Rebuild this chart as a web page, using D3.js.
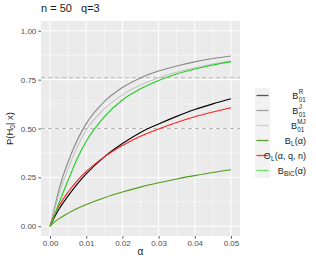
<!DOCTYPE html>
<html>
<head>
<meta charset="utf-8">
<script src="https://cdn.jsdelivr.net/npm/d3@7"></script>
<style>
  body { margin: 0; background: #fff; }
  text { font-family: "Liberation Sans", Arial, sans-serif; }
</style>
</head>
<body>
<div id="chart"></div>
<script>
// values
const alpha = [0, 0.001, 0.0025, 0.005, 0.0075, 0.01, 0.015, 0.02, 0.025, 0.03, 0.035, 0.04, 0.045, 0.05];
const bR   = [0, 0.038, 0.088, 0.155, 0.215, 0.268, 0.355, 0.423, 0.48, 0.523, 0.562, 0.597, 0.626, 0.652];
const bJ   = [0, 0.075, 0.19, 0.33, 0.44, 0.525, 0.638, 0.71, 0.759, 0.794, 0.82, 0.841, 0.858, 0.871];
const bMJ  = [0, 0.065, 0.165, 0.295, 0.405, 0.492, 0.6, 0.672, 0.722, 0.76, 0.788, 0.811, 0.83, 0.845];
const bL   = [0, 0.018, 0.039, 0.067, 0.091, 0.111, 0.146, 0.175, 0.2, 0.222, 0.242, 0.259, 0.275, 0.289];
const oL   = [0, 0.05, 0.105, 0.175, 0.232, 0.28, 0.355, 0.413, 0.46, 0.498, 0.531, 0.56, 0.584, 0.606];
const bBIC = [0, 0.045, 0.12, 0.235, 0.345, 0.435, 0.56, 0.646, 0.703, 0.746, 0.779, 0.804, 0.825, 0.842];
const hLines = [0.76, 0.5];
const xTicks = [0, 0.01, 0.02, 0.03, 0.04, 0.05];
const yTicks = [0, 0.25, 0.5, 0.75, 1];

const series = [
  { name: "bR", vals: bR, colour: "#000000", key: "#555555",
    label: [["m", "B"], ["ss", "R", "01"]] },
  { name: "bJ", vals: bJ, colour: "#888888", key: "#a0a0a0",
    label: [["m", "B"], ["ss", "J", "01"]] },
  { name: "bMJ", vals: bMJ, colour: "#c4c4c4", key: "#d0d0d0",
    label: [["m", "B"], ["ss", "MJ", "01"]] },
  { name: "bL", vals: bL, colour: "#4f9a14", key: "#5e9e2a",
    label: [["m", "B"], ["sub", "L"], ["m", "(\u03b1)"]] },
  { name: "oL", vals: oL, colour: "#ff2020", key: "#ff3a3a",
    label: [["m", "O"], ["sub", "L"], ["m", "(\u03b1, q, n)"]] },
  { name: "bBIC", vals: bBIC, colour: "#1fcc1f", key: "#70dd70",
    label: [["m", "B"], ["sub", "BIC"], ["m", "(\u03b1)"]] },
];

const width = 316, height = 261;
const panel = { left: 41, right: 240, top: 21, bottom: 236 };

const svg = d3.select("#chart").append("svg")
  .attr("width", width).attr("height", height);

const x = d3.scaleLinear().domain([-0.0025, 0.0525]).range([panel.left, panel.right]);
const y = d3.scaleLinear().domain([-0.05, 1.05]).range([panel.bottom, panel.top]);

// panel background
svg.append("rect")
  .attr("x", panel.left).attr("y", panel.top)
  .attr("width", panel.right - panel.left).attr("height", panel.bottom - panel.top)
  .attr("fill", "#ebebeb");

// minor grid
const xMinor = xTicks.slice(0, -1).map(d => d + 0.005);
const yMinor = yTicks.slice(0, -1).map(d => d + 0.125);
svg.append("g").selectAll("line").data(xMinor).join("line")
  .attr("x1", d => x(d)).attr("x2", d => x(d))
  .attr("y1", panel.top).attr("y2", panel.bottom)
  .attr("stroke", "#fff").attr("stroke-width", 0.5);
svg.append("g").selectAll("line").data(yMinor).join("line")
  .attr("y1", d => y(d)).attr("y2", d => y(d))
  .attr("x1", panel.left).attr("x2", panel.right)
  .attr("stroke", "#fff").attr("stroke-width", 0.5);
// major grid
svg.append("g").selectAll("line").data(xTicks).join("line")
  .attr("x1", d => x(d)).attr("x2", d => x(d))
  .attr("y1", panel.top).attr("y2", panel.bottom)
  .attr("stroke", "#fff").attr("stroke-width", 1);
svg.append("g").selectAll("line").data(yTicks).join("line")
  .attr("y1", d => y(d)).attr("y2", d => y(d))
  .attr("x1", panel.left).attr("x2", panel.right)
  .attr("stroke", "#fff").attr("stroke-width", 1);

// dashed reference lines
svg.append("g").selectAll("line").data(hLines).join("line")
  .attr("y1", d => y(d)).attr("y2", d => y(d))
  .attr("x1", panel.left).attr("x2", panel.right)
  .attr("stroke", "#b8b8b8").attr("stroke-width", 1)
  .attr("stroke-dasharray", "4,3");

// curves
const line = d3.line()
  .x((d, i) => x(alpha[i]))
  .y(d => y(d))
  .curve(d3.curveMonotoneX);

svg.append("g").selectAll("path").data(series).join("path")
  .attr("d", d => line(d.vals))
  .attr("fill", "none")
  .attr("stroke", d => d.colour)
  .attr("stroke-width", 1.1);

// axes
const xAxis = svg.append("g")
  .attr("transform", `translate(0,${panel.bottom})`)
  .call(d3.axisBottom(x).tickValues(xTicks).tickFormat(d3.format(".2f")).tickSize(2.7).tickPadding(2));
const yAxis = svg.append("g")
  .attr("transform", `translate(${panel.left},0)`)
  .call(d3.axisLeft(y).tickValues(yTicks).tickFormat(d3.format(".2f")).tickSize(2.7).tickPadding(2));
[xAxis, yAxis].forEach(g => {
  g.select(".domain").remove();
  g.selectAll(".tick line").attr("stroke", "#333").attr("stroke-width", 0.8);
  g.selectAll(".tick text").attr("fill", "#4d4d4d")
    .style("font-size", "8px").style("font-family", "'Liberation Sans', Arial, sans-serif");
});

// titles
svg.append("text")
  .attr("x", 41).attr("y", 12)
  .attr("fill", "#1a1a1a").style("font-size", "11px")
  .attr("xml:space", "preserve")
  .text("n = 50   q=3");

svg.append("text")
  .attr("x", (panel.left + panel.right) / 2).attr("y", 255)
  .attr("text-anchor", "middle").attr("fill", "#1a1a1a")
  .style("font-size", "10px").text("\u03b1");

const yt = svg.append("text")
  .attr("transform", `translate(13,${(panel.top + panel.bottom) / 2}) rotate(-90)`)
  .attr("text-anchor", "middle").attr("fill", "#1a1a1a")
  .style("font-size", "9.5px");
yt.append("tspan").text("P(H");
yt.append("tspan").attr("dy", 2).style("font-size", "6.5px").text("0");
yt.append("tspan").attr("dy", -2).text("| x)");

// legend
const legTop = 88, rowH = 15, keyX = 255, keyW = 15, labelRight = 306;
const legend = svg.append("g");
series.forEach((s, i) => {
  const cy = legTop + i * rowH + rowH / 2;
  legend.append("rect")
    .attr("x", keyX).attr("y", legTop + i * rowH)
    .attr("width", keyW).attr("height", rowH)
    .attr("fill", "#f2f2f2");
  legend.append("line")
    .attr("x1", keyX + 1.5).attr("x2", keyX + keyW - 1.5)
    .attr("y1", cy).attr("y2", cy)
    .attr("stroke", s.key).attr("stroke-width", 1.3);

  const g = legend.append("g");
  let cx = 0;
  s.label.forEach(part => {
    if (part[0] === "m") {
      const t = g.append("text").attr("x", cx).attr("y", 3)
        .style("font-size", "9px").attr("fill", "#1a1a1a").text(part[1]);
      cx += t.node().getComputedTextLength();
    } else if (part[0] === "sub") {
      const t = g.append("text").attr("x", cx + 0.3).attr("y", 5)
        .style("font-size", "6.3px").attr("fill", "#1a1a1a").text(part[1]);
      cx += t.node().getComputedTextLength() + 0.6;
    } else {
      const a = g.append("text").attr("x", cx + 0.3).attr("y", -1.5)
        .style("font-size", "6.3px").attr("fill", "#1a1a1a").text(part[1]);
      const b = g.append("text").attr("x", cx + 0.3).attr("y", 6)
        .style("font-size", "6.3px").attr("fill", "#1a1a1a").text(part[2]);
      cx += Math.max(a.node().getComputedTextLength(), b.node().getComputedTextLength()) + 0.6;
    }
  });
  g.attr("transform", `translate(${labelRight - cx},${cy})`);
});
</script>
</body>
</html>
